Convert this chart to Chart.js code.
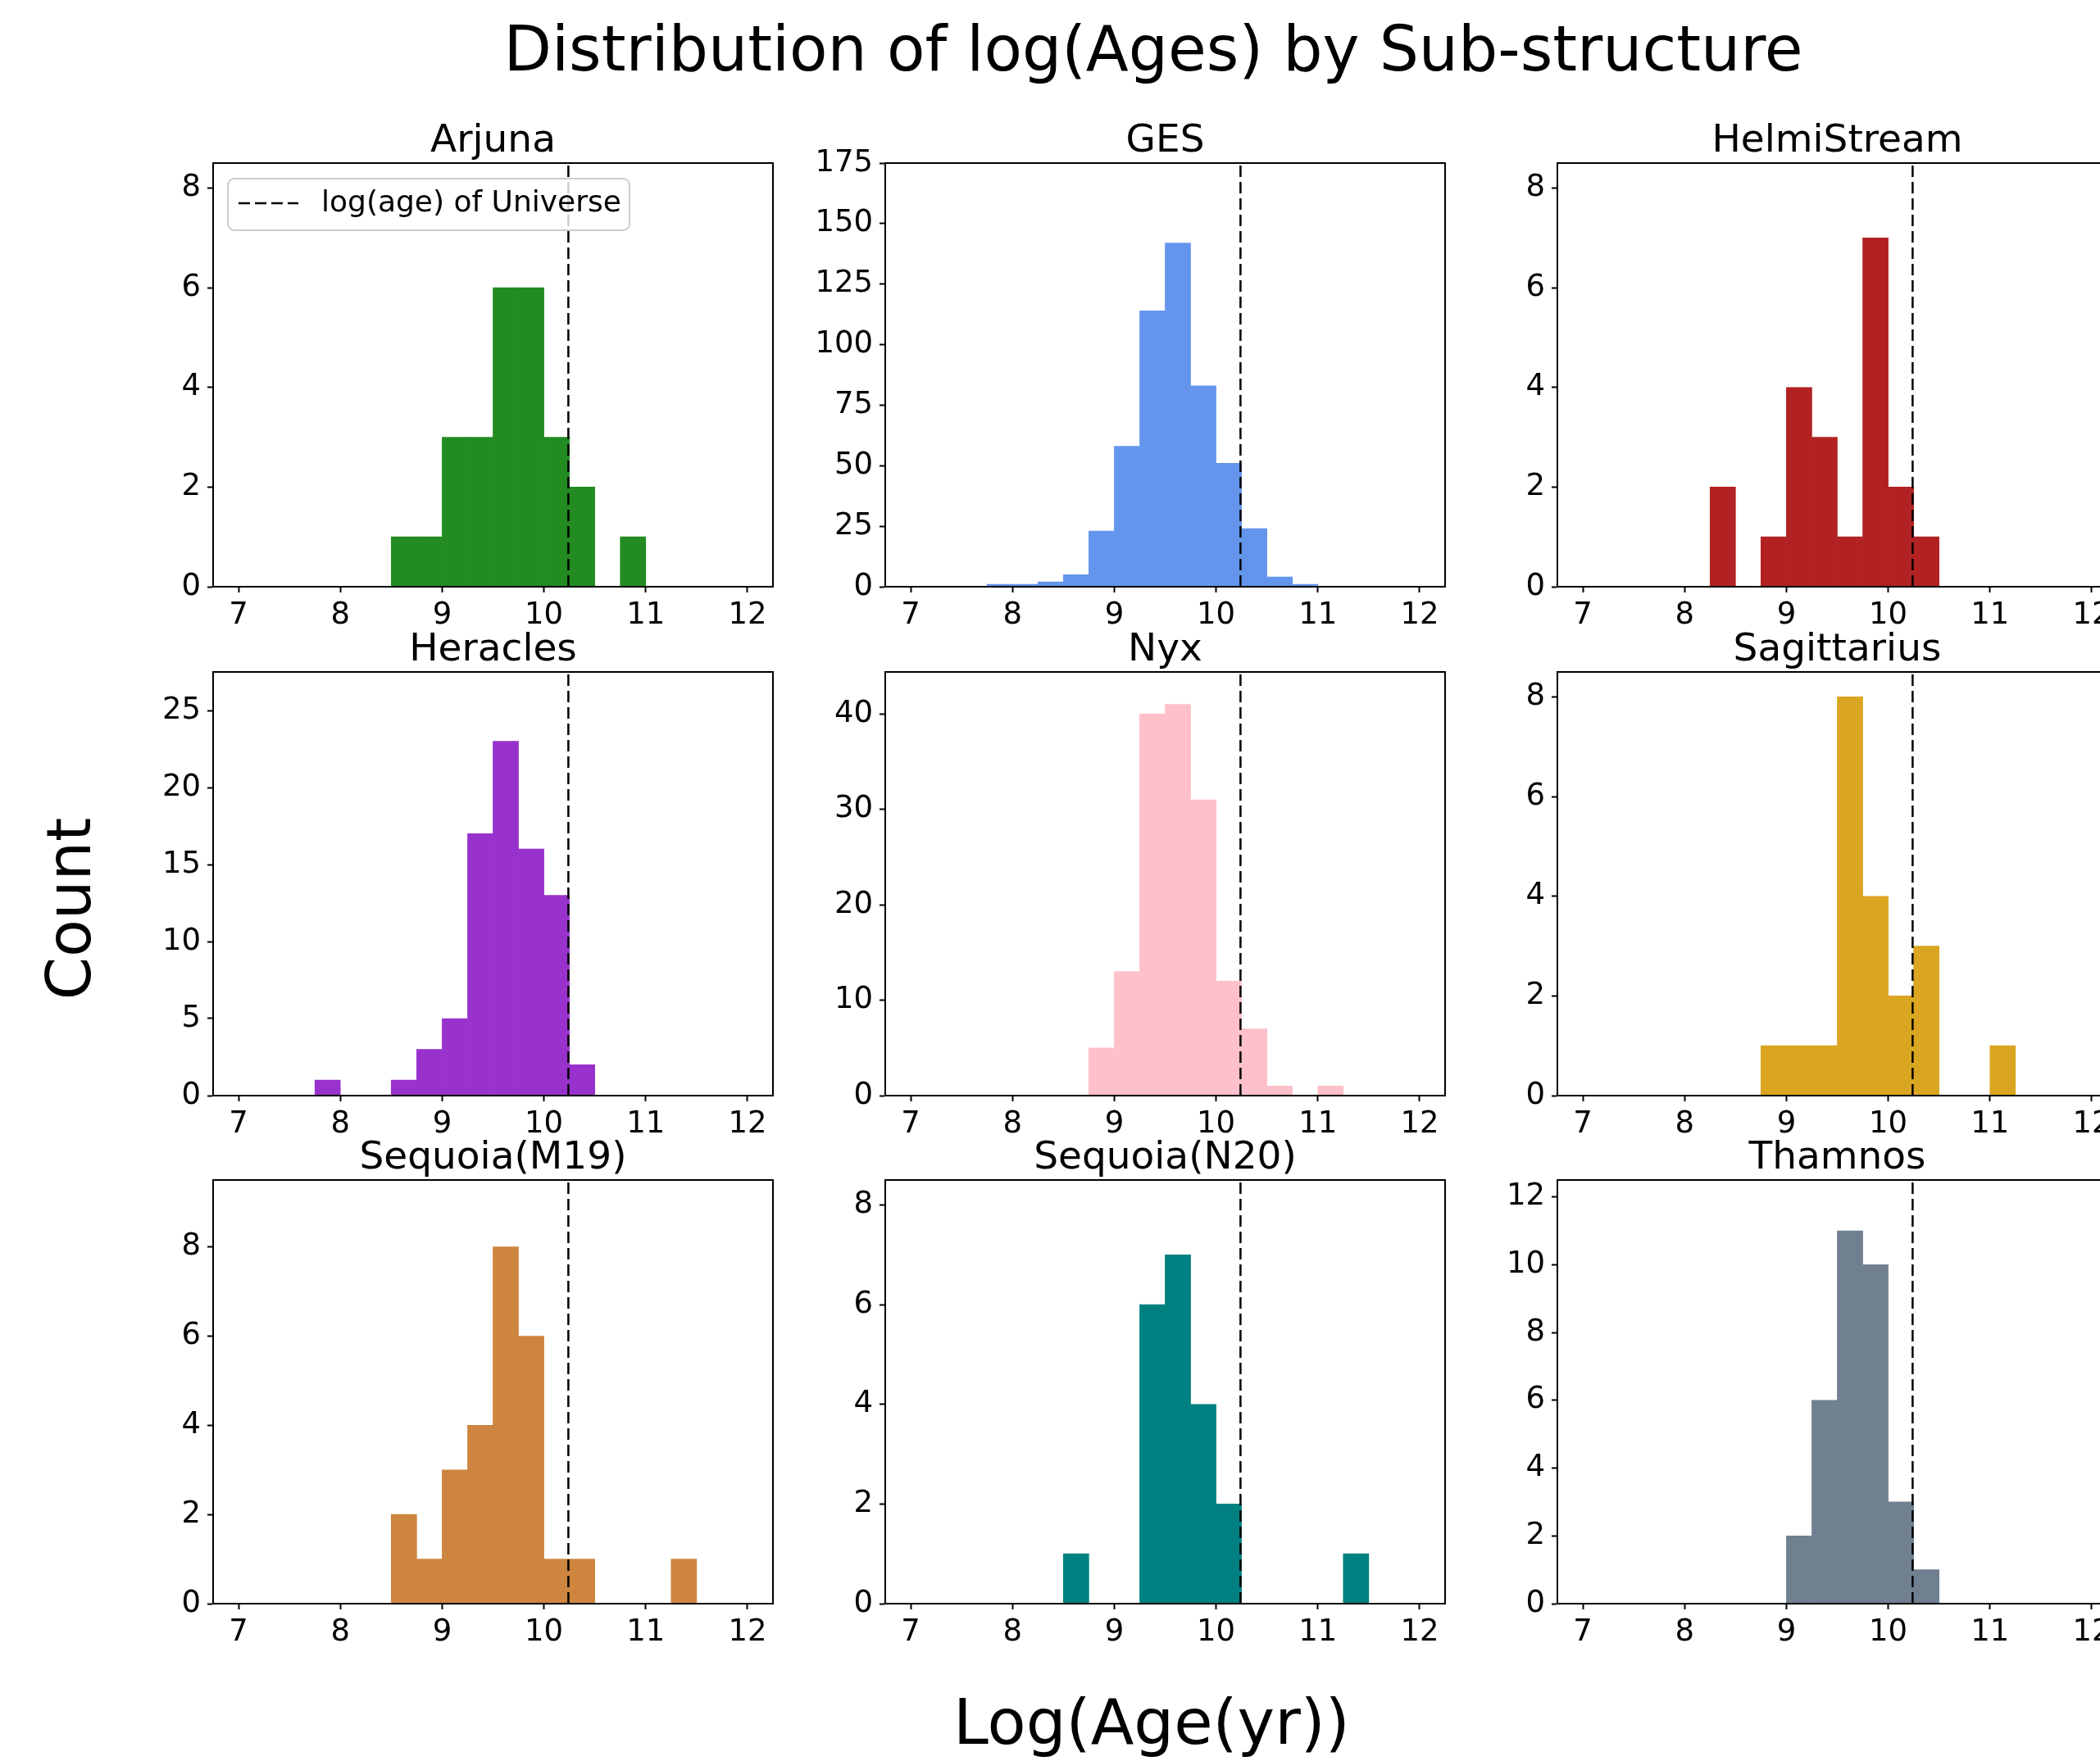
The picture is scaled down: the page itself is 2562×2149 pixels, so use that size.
<!DOCTYPE html>
<html>
<head>
<meta charset="utf-8">
<script src="https://cdn.jsdelivr.net/npm/chart.js@4.4.0/dist/chart.umd.min.js"></script>
<style>
html, body { margin: 0; padding: 0; width: 2562px; height: 2149px; overflow: hidden; background: #fff; font-family: "DejaVu Sans"; }
canvas { position: absolute; }
.lbl { position: absolute; white-space: nowrap; color: #000; }
</style>
</head>
<body>
<div class="lbl" style="left:1407px;top:22px;font-size:76px;line-height:76px;transform:translateX(-50%)">Distribution of log(Ages) by Sub-structure</div>
<div class="lbl" style="left:1405px;top:2063px;font-size:77px;line-height:77px;transform:translateX(-50%)">Log(Age(yr))</div>
<div class="lbl" style="left:84px;top:1109px;font-size:75px;line-height:75px;transform:translate(-50%,-50%) rotate(-90deg)">Count</div>
<script>
// histogram bins (width 0.25 from 7 to 12), centres
var binCenters = [7.125, 7.375, 7.625, 7.875, 8.125, 8.375, 8.625, 8.875, 9.125, 9.375,
                  9.625, 9.875, 10.125, 10.375, 10.625, 10.875, 11.125, 11.375, 11.625, 11.875];

var arjuna      = [0,0,0,0,0,0,1,1,3,3,6,6,3,2,0,1,0,0,0,0];
var ges         = [0,0,0,1,1,2,5,23,58,114,142,83,51,24,4,1,0,0,0,0];
var helmiStream = [0,0,0,0,0,2,0,1,4,3,1,7,2,1,0,0,0,0,0,0];
var heracles    = [0,0,0,1,0,0,1,3,5,17,23,16,13,2,0,0,0,0,0,0];
var nyx         = [0,0,0,0,0,0,0,5,13,40,41,31,12,7,1,0,1,0,0,0];
var sagittarius = [0,0,0,0,0,0,0,1,1,1,8,4,2,3,0,0,1,0,0,0];
var sequoiaM19  = [0,0,0,0,0,0,2,1,3,4,8,6,1,1,0,0,0,1,0,0];
var sequoiaN20  = [0,0,0,0,0,0,1,0,0,6,7,4,2,0,0,0,0,1,0,0];
var thamnos     = [0,0,0,0,0,0,0,0,2,6,11,10,3,1,0,0,0,0,0,0];

var panelNames  = ['Arjuna', 'GES', 'HelmiStream', 'Heracles', 'Nyx', 'Sagittarius', 'Sequoia(M19)', 'Sequoia(N20)', 'Thamnos'];
var panelCounts = [arjuna, ges, helmiStream, heracles, nyx, sagittarius, sequoiaM19, sequoiaN20, thamnos];
var panelColors = ['#228B22', '#6495ED', '#B22222', '#9932CC', '#FFC0CB', '#DAA520', '#CD853F', '#008080', '#708090'];

var xTicks = [7, 8, 9, 10, 11, 12];
var yMaxes = [8.5, 175, 8.5, 27.5, 44.4, 8.5, 9.5, 8.5, 12.5];
var yTicks = [
    [0, 2, 4, 6, 8],
    [0, 25, 50, 75, 100, 125, 150, 175],
    [0, 2, 4, 6, 8],
    [0, 5, 10, 15, 20, 25],
    [0, 10, 20, 30, 40],
    [0, 2, 4, 6, 8],
    [0, 2, 4, 6, 8],
    [0, 2, 4, 6, 8],
    [0, 2, 4, 6, 8, 10, 12]
];
var universeLogAge = 10.24;
var universeLabel = 'log(age) of Universe';

// layout of the 3x3 grid (plot area corners in page pixels)
var axLefts = [260, 1080, 1900];
var axTops = [199, 820, 1440];
var axW = 683, axH = 517;
var padL = 110, padT = 70, padB = 70, padR = 40;

Chart.defaults.font.family = 'DejaVu Sans';
Chart.defaults.color = '#000';

var framePlugin = {
    id: 'frame',
    afterDraw: function(chart) {
        var a = chart.chartArea, ctx = chart.ctx;
        ctx.save();
        ctx.strokeStyle = '#000';
        ctx.lineWidth = 2;
        ctx.strokeRect(a.left, a.top, a.right - a.left, a.bottom - a.top);
        ctx.restore();
    }
};

var legendBox = {
    id: 'legendBox',
    afterDraw: function(chart, args, opts) {
        if (!opts.show) return;
        var a = chart.chartArea, ctx = chart.ctx;
        var x = a.left + 18, y = a.top + 19, w = 490, h = 63, r = 8;
        ctx.save();
        ctx.beginPath();
        ctx.roundRect(x, y, w, h, r);
        ctx.fillStyle = 'rgba(255,255,255,0.8)';
        ctx.fill();
        ctx.strokeStyle = '#cccccc';
        ctx.lineWidth = 2;
        ctx.stroke();
        ctx.beginPath();
        ctx.setLineDash([14, 6]);
        ctx.strokeStyle = '#000';
        ctx.lineWidth = 2.5;
        ctx.moveTo(a.left + 31, a.top + 49);
        ctx.lineTo(a.left + 104, a.top + 49);
        ctx.stroke();
        ctx.setLineDash([]);
        ctx.fillStyle = '#000';
        ctx.font = '36px "DejaVu Sans"';
        ctx.textBaseline = 'middle';
        ctx.fillText(chart.data.datasets[0].label, a.left + 132, a.top + 50);
        ctx.restore();
    }
};

panelNames.forEach(function(name, i) {
    var col = i % 3, row = Math.floor(i / 3);
    var cv = document.createElement('canvas');
    cv.width = padL + axW + padR;
    cv.height = padT + axH + padB;
    cv.style.left = (axLefts[col] - padL) + 'px';
    cv.style.top = (axTops[row] - padT) + 'px';
    document.body.appendChild(cv);

    var counts = panelCounts[i];
    var ticksY = yTicks[i];

    new Chart(cv, {
        type: 'bar',
        data: {
            datasets: [
                {
                    type: 'line',
                    label: universeLabel,
                    data: [{x: universeLogAge, y: 0}, {x: universeLogAge, y: yMaxes[i]}],
                    borderColor: '#000',
                    borderWidth: 2.5,
                    borderDash: [14, 6],
                    pointRadius: 0,
                    fill: false,
                    order: 0
                },
                {
                    label: name,
                    data: binCenters.map(function(c, k) { return {x: c, y: counts[k]}; }),
                    backgroundColor: panelColors[i],
                    borderWidth: 0,
                    barPercentage: 1,
                    categoryPercentage: 1,
                    order: 1
                }
            ]
        },
        options: {
            responsive: false,
            animation: false,
            devicePixelRatio: 1,
            layout: { padding: { left: 0, right: padR, top: 0, bottom: 0 } },
            plugins: {
                legend: { display: false },
                tooltip: { enabled: false },
                title: {
                    display: true,
                    text: name,
                    fullSize: false,
                    color: '#000',
                    font: { size: 47, weight: 'normal', lineHeight: 1.1 },
                    padding: { top: 17.5, bottom: 0.8 }
                },
                legendBox: { show: i === 0 }
            },
            scales: {
                x: {
                    type: 'linear',
                    min: 6.75,
                    max: 12.25,
                    offset: false,
                    afterBuildTicks: function(axis) { axis.ticks = xTicks.map(function(v) { return {value: v}; }); },
                    afterFit: function(s) { s.height = padB; },
                    ticks: { font: { size: 37 }, color: '#000', padding: 6, maxRotation: 0, autoSkip: false },
                    grid: { display: true, offset: false, drawOnChartArea: false, drawTicks: true, tickLength: 7, tickWidth: 2, tickColor: '#000', color: '#000' },
                    border: { display: true, color: '#000', width: 2 }
                },
                y: {
                    min: 0,
                    max: yMaxes[i],
                    afterBuildTicks: function(axis) { axis.ticks = ticksY.map(function(v) { return {value: v}; }); },
                    afterFit: function(s) { s.width = padL; },
                    ticks: { font: { size: 37 }, color: '#000', padding: 8 },
                    grid: { display: true, drawOnChartArea: false, drawTicks: true, tickLength: 7, tickWidth: 2, tickColor: '#000', color: '#000' },
                    border: { display: true, color: '#000', width: 2 }
                }
            }
        },
        plugins: [framePlugin, legendBox]
    });
});
</script>
</body>
</html>
